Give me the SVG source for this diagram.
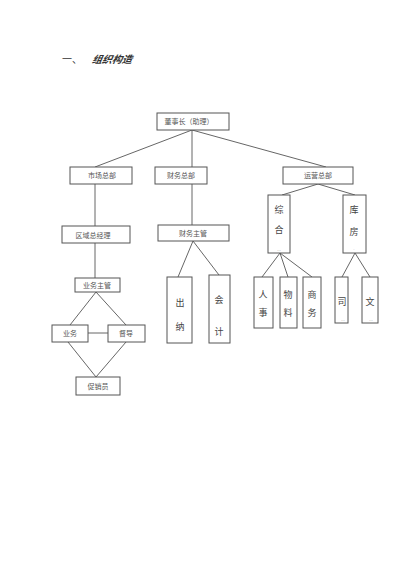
<svg xmlns="http://www.w3.org/2000/svg" width="400" height="565" viewBox="0 0 400 565">
<style>
.b{fill:#fff;stroke:#555;stroke-width:1}
.l{stroke:#555;stroke-width:0.9;fill:none}
.t{font-family:"Noto Sans CJK SC","Liberation Sans",sans-serif;font-size:7px;fill:#555;text-anchor:middle}
.v{font-family:"Noto Sans CJK SC","Liberation Serif",serif;font-size:9px;fill:#444;text-anchor:middle}
.s{font-family:"Liberation Sans",sans-serif;font-size:4px;fill:#777;text-anchor:middle}
</style>
<rect width="400" height="565" fill="#fff"/>
<text x="62" y="63" font-family="Noto Sans CJK SC, sans-serif" font-size="10" fill="#333">一、</text>
<text x="92" y="63" font-family="Noto Sans CJK SC, sans-serif" font-size="10" font-weight="bold" font-style="italic" fill="#333" transform="skewX(-12) translate(13,0)">组织构造</text>
<g id="connectors">
<line class="l" x1="192" y1="130" x2="95" y2="167"/>
<line class="l" x1="192" y1="130" x2="192" y2="167"/>
<line class="l" x1="192" y1="130" x2="326" y2="167"/>
<line class="l" x1="95" y1="184" x2="95" y2="226"/>
<line class="l" x1="95" y1="243" x2="95" y2="278"/>
<line class="l" x1="96" y1="292" x2="70" y2="325"/>
<line class="l" x1="96" y1="292" x2="126" y2="325"/>
<line class="l" x1="88" y1="333" x2="108" y2="333"/>
<line class="l" x1="68" y1="342" x2="96" y2="377"/>
<line class="l" x1="126" y1="342" x2="96" y2="377"/>
<line class="l" x1="192" y1="184" x2="192" y2="225"/>
<line class="l" x1="193" y1="241" x2="178" y2="277"/>
<line class="l" x1="193" y1="241" x2="219" y2="275"/>
<line class="l" x1="318" y1="184" x2="282" y2="195"/>
<line class="l" x1="318" y1="184" x2="355" y2="195"/>
<line class="l" x1="280" y1="253" x2="262" y2="277"/>
<line class="l" x1="280" y1="253" x2="288" y2="277"/>
<line class="l" x1="280" y1="253" x2="312" y2="277"/>
<line class="l" x1="355" y1="253" x2="342" y2="277"/>
<line class="l" x1="355" y1="253" x2="370" y2="277"/>
</g>
<g id="n_top"><rect class="b" x="157" y="113" width="72" height="17"/><text class="t" x="189" y="124">董事长（助理）</text></g>
<g id="n_market"><rect class="b" x="70" y="167" width="62" height="17"/><text class="t" x="102" y="178">市场总部</text></g>
<g id="n_finance"><rect class="b" x="155" y="167" width="52" height="17"/><text class="t" x="181" y="178">财务总部</text></g>
<g id="n_ops"><rect class="b" x="283" y="167" width="70" height="17"/><text class="t" x="318" y="178">运营总部</text></g>
<g id="n_region"><rect class="b" x="62" y="226" width="68" height="17"/><text class="t" x="93" y="238">区域总经理</text></g>
<g id="n_finmgr"><rect class="b" x="158" y="225" width="71" height="16"/><text class="t" x="193" y="236">财务主管</text></g>
<g id="n_bizmgr"><rect class="b" x="75" y="278" width="45" height="14"/><text class="t" x="97" y="288" font-size="5">业务主管</text></g>
<g id="n_biz"><rect class="b" x="52" y="325" width="36" height="17"/><text class="t" x="70" y="336">业务</text></g>
<g id="n_super"><rect class="b" x="108" y="325" width="37" height="17"/><text class="t" x="126" y="336">督导</text></g>
<g id="n_promo"><rect class="b" x="76" y="377" width="44" height="18"/><text class="t" x="98" y="389" font-size="8">促销员</text></g>
<g id="n_cashier"><rect class="b" x="167" y="277" width="25" height="66"/><text class="v" x="180" y="306">出</text><text class="v" x="180" y="330">纳</text></g>
<g id="n_account"><rect class="b" x="209" y="275" width="21" height="68"/><text class="v" x="219" y="303">会</text><text class="v" x="219" y="335">计</text></g>
<g id="n_general"><rect class="b" x="268" y="195" width="22" height="58"/><text class="v" x="279" y="213">综</text><text class="v" x="279" y="233">合</text><text class="s" x="279" y="251">…</text></g>
<g id="n_store"><rect class="b" x="343" y="195" width="23" height="58"/><text class="v" x="354" y="213">库</text><text class="v" x="354" y="235">房</text><text class="s" x="354" y="251">·</text></g>
<g id="n_hr"><rect class="b" x="254" y="277" width="19" height="51"/><text class="v" x="263" y="298">人</text><text class="v" x="263" y="316">事</text></g>
<g id="n_mat"><rect class="b" x="280" y="277" width="17" height="51"/><text class="v" x="288" y="298">物</text><text class="v" x="288" y="316">料</text></g>
<g id="n_com"><rect class="b" x="303" y="277" width="18" height="51"/><text class="v" x="312" y="298">商</text><text class="v" x="312" y="316">务</text></g>
<g id="n_driver"><rect class="b" x="335" y="277" width="13" height="46"/><text class="v" x="342" y="305">司</text><text class="s" x="343" y="321">…</text></g>
<g id="n_clerk"><rect class="b" x="362" y="277" width="16" height="46"/><text class="v" x="370" y="305">文</text><text class="s" x="371" y="321">…</text></g>
</svg>
